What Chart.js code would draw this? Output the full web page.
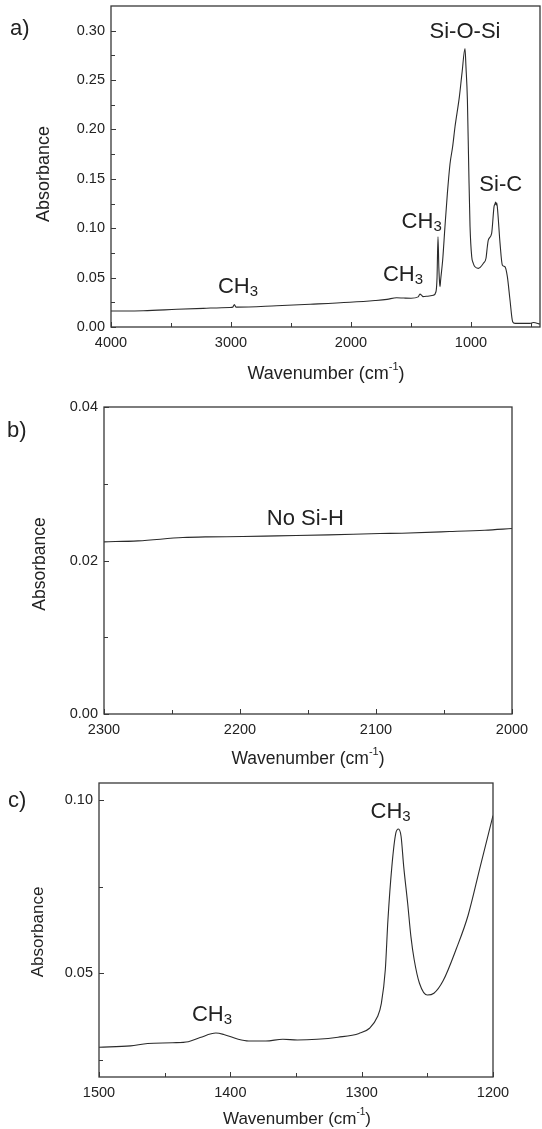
<!DOCTYPE html>
<html>
<head>
<meta charset="utf-8">
<script src="https://cdn.jsdelivr.net/npm/chart.js@4.4.0/dist/chart.umd.min.js"></script>
<style>
  html, body { margin: 0; padding: 0; background: #fff; }
  body { width: 542px; height: 1129px; position: relative; overflow: hidden; }
  canvas { position: absolute; left: 0; }
</style>
</head>
<body>
<canvas id="chartA" width="542" height="390" style="top:0"></canvas>
<canvas id="chartB" width="542" height="380" style="top:390px"></canvas>
<canvas id="chartC" width="542" height="359" style="top:770px"></canvas>
<script>
const FONT = '"Liberation Sans", Arial, sans-serif';
const INK = '#222';

// a) full spectrum
const aWave = [4000, 3730, 3450, 3230, 3010, 2985, 2972, 2960, 2950, 2620, 2340, 2010, 1800, 1700, 1620,
  1560, 1500, 1440, 1425, 1411, 1400, 1360, 1314, 1292, 1283, 1275, 1268, 1262, 1258, 1253,
  1236, 1217, 1197, 1175, 1153, 1133, 1097, 1075, 1050, 1042, 1030, 1019, 1008, 994, 981,
  967, 939, 897, 875, 864, 856, 828, 808, 800, 795, 790, 785, 778, 758, 739,
  717, 697, 675, 653, 633, 508, 480, 425];
const aAbs = [0.0162, 0.0165, 0.0179, 0.0189, 0.0198, 0.0201, 0.0228, 0.0203, 0.0201, 0.0215, 0.0230, 0.0250, 0.0268, 0.0280, 0.0296,
  0.0293, 0.0291, 0.0305, 0.0333, 0.0320, 0.0308, 0.0312, 0.0322, 0.0357, 0.0500, 0.0914, 0.0600, 0.0450, 0.0408, 0.0476,
  0.0678, 0.1016, 0.135, 0.165, 0.1826, 0.203, 0.233, 0.257, 0.282, 0.2636, 0.230, 0.162, 0.1016, 0.0712, 0.0645,
  0.061, 0.0594, 0.0645, 0.0696, 0.0813, 0.088, 0.0949, 0.1218, 0.1245, 0.1265, 0.1235, 0.1255, 0.118, 0.0847, 0.0628,
  0.061, 0.051, 0.0273, 0.0054, 0.0037, 0.0037, 0.0045, 0.003];
const aXTicks = [4000, 3000, 2000, 1000];
const aXMinor = [3500, 2500, 1500, 500];
const aYTicks = [0, 0.05, 0.10, 0.15, 0.20, 0.25, 0.30];
const aYMinor = [0.025, 0.075, 0.125, 0.175, 0.225, 0.275];
const aNotes = [
  { text: 'CH', sub: '3', x: 2942, y: 0.0405 },
  { text: 'CH', sub: '3', x: 1567, y: 0.0526 },
  { text: 'CH', sub: '3', x: 1411, y: 0.1066 },
  { text: 'Si-O-Si', x: 1050, y: 0.299 },
  { text: 'Si-C', x: 752, y: 0.1438 }
];

// b) Si-H region
const bWave = [2300, 2275, 2242, 2224, 2198, 2173, 2135, 2097, 2081, 2046, 2020, 2000];
const bAbs = [0.02243, 0.02256, 0.02299, 0.02308, 0.02312, 0.02321, 0.02334, 0.02351, 0.02356, 0.02377, 0.02395, 0.02416];
const bXTicks = [2300, 2200, 2100, 2000];
const bXMinor = [2250, 2150, 2050];
const bYTicks = [0, 0.02, 0.04];
const bYMinor = [0.01, 0.03];
const bNotes = [{ text: 'No Si-H', x: 2152, y: 0.02545 }];

// c) CH3 region
const cWave = [1500, 1476, 1463, 1444, 1432, 1423, 1411, 1405, 1394, 1386, 1373, 1360, 1349, 1334, 1318,
  1302, 1294, 1288, 1285, 1282, 1280, 1277, 1274, 1272, 1270, 1268, 1265, 1262.5, 1260, 1256,
  1250, 1245, 1238, 1228, 1219, 1210, 1200];
const cAbs = [0.0286, 0.0290, 0.0297, 0.0299, 0.0302, 0.0314, 0.0327, 0.0323, 0.0309, 0.0304, 0.0304, 0.0309, 0.0307, 0.0309, 0.0315,
  0.0326, 0.0341, 0.0374, 0.0413, 0.0510, 0.0654, 0.0809, 0.0905, 0.0917, 0.0896, 0.0809, 0.0703, 0.0606, 0.0539, 0.0471,
  0.0437, 0.0442, 0.0478, 0.0570, 0.0667, 0.0804, 0.0956];
const cXTicks = [1500, 1400, 1300, 1200];
const cXMinor = [1450, 1350, 1250];
const cYTicks = [0.05, 0.10];
const cYMinor = [0.025, 0.075];
const cNotes = [
  { text: 'CH', sub: '3', x: 1278, y: 0.0965 },
  { text: 'CH', sub: '3', x: 1414, y: 0.0380 }
];

function textSub(ctx, text, sub, cx, cy, size) {
  ctx.font = size + 'px ' + FONT;
  const w1 = ctx.measureText(text).width;
  const subSize = Math.round(size * 0.68);
  ctx.font = subSize + 'px ' + FONT;
  const w2 = sub ? ctx.measureText(sub).width : 0;
  const x0 = cx - (w1 + w2) / 2;
  ctx.textAlign = 'left';
  ctx.textBaseline = 'middle';
  ctx.font = size + 'px ' + FONT;
  ctx.fillText(text, x0, cy);
  if (sub) {
    ctx.font = subSize + 'px ' + FONT;
    ctx.fillText(sub, x0 + w1, cy + size * 0.22);
  }
}

const deco = {
  id: 'deco',
  afterDraw(chart, args, o) {
    const { ctx, chartArea: a, scales: { x, y } } = chart;
    ctx.save();
    ctx.strokeStyle = '#383838';
    ctx.lineWidth = 1.3;
    ctx.strokeRect(a.left, a.top, a.right - a.left, a.bottom - a.top);
    ctx.lineWidth = 1;
    const xt = (vals, len) => vals.forEach(v => {
      const px = Math.round(x.getPixelForValue(v)) + 0.5;
      ctx.beginPath(); ctx.moveTo(px, a.bottom); ctx.lineTo(px, a.bottom - len); ctx.stroke();
    });
    const yt = (vals, len) => vals.forEach(v => {
      const py = Math.round(y.getPixelForValue(v)) + 0.5;
      ctx.beginPath(); ctx.moveTo(a.left, py); ctx.lineTo(a.left + len, py); ctx.stroke();
    });
    xt(o.xTicks, 5); xt(o.xMinor, 4);
    yt(o.yTicks, 5); yt(o.yMinor, 4);

    ctx.fillStyle = INK;
    // peak labels
    o.notes.forEach(n => textSub(ctx, n.text, n.sub, x.getPixelForValue(n.x), y.getPixelForValue(n.y), o.noteSize));
    // panel letter
    ctx.font = o.letterSize + 'px ' + FONT;
    ctx.textAlign = 'left';
    ctx.textBaseline = 'middle';
    ctx.fillText(o.letter, o.letterX, o.letterY);
    // y title
    ctx.save();
    ctx.translate(o.yTitleX, o.yTitleY);
    ctx.rotate(-Math.PI / 2);
    ctx.font = o.titleSize + 'px ' + FONT;
    ctx.textAlign = 'center';
    ctx.fillText('Absorbance', 0, 0);
    ctx.restore();
    // x title with superscript
    const t1 = 'Wavenumber (cm', t2 = '-1', t3 = ')';
    const supSize = Math.round(o.titleSize * 0.6);
    ctx.font = o.titleSize + 'px ' + FONT;
    const w1 = ctx.measureText(t1).width, w3 = ctx.measureText(t3).width;
    ctx.font = supSize + 'px ' + FONT;
    const w2 = ctx.measureText(t2).width;
    let x0 = o.xTitleX - (w1 + w2 + w3) / 2;
    ctx.textAlign = 'left';
    ctx.font = o.titleSize + 'px ' + FONT;
    ctx.fillText(t1, x0, o.xTitleY);
    ctx.font = supSize + 'px ' + FONT;
    ctx.fillText(t2, x0 + w1, o.xTitleY - o.titleSize * 0.38);
    ctx.font = o.titleSize + 'px ' + FONT;
    ctx.fillText(t3, x0 + w1 + w2, o.xTitleY);
    ctx.restore();
  }
};

function makePanel(id, p) {
  const pts = p.wave.map((w, i) => ({ x: w, y: p.abs[i] }));
  return new Chart(document.getElementById(id), {
    type: 'line',
    data: {
      datasets: [{
        data: pts,
        borderColor: '#2b2b2b',
        borderWidth: 1.1,
        pointRadius: 0,
        cubicInterpolationMode: 'monotone',
        fill: false
      }]
    },
    options: {
      responsive: false,
      animation: false,
      events: [],
      layout: { padding: p.pad },
      plugins: {
        legend: { display: false },
        tooltip: { enabled: false },
        deco: {
          xTicks: p.xTicks, xMinor: p.xMinor, yTicks: p.yTicks, yMinor: p.yMinor,
          notes: p.notes, noteSize: p.noteSize, letter: p.letter, letterSize: p.letterSize,
          letterX: p.letterX, letterY: p.letterY, titleSize: p.titleSize,
          xTitleX: p.xTitleX, xTitleY: p.xTitleY, yTitleX: p.yTitleX, yTitleY: p.yTitleY
        }
      },
      scales: {
        x: {
          type: 'linear',
          reverse: true,
          min: p.xMin, max: p.xMax,
          grid: { display: false, drawTicks: false },
          border: { display: false },
          afterBuildTicks: s => { s.ticks = p.xTicks.map(v => ({ value: v })); },
          afterFit: s => { s.height = p.xHeight; s.paddingLeft = 0; s.paddingRight = 0; },
          ticks: {
            autoSkip: false, maxRotation: 0, padding: p.xPad,
            color: INK, font: { family: FONT, size: p.tickSize },
            callback: v => String(v)
          }
        },
        y: {
          type: 'linear',
          min: p.yMin, max: p.yMax,
          grid: { display: false, drawTicks: false },
          border: { display: false },
          afterBuildTicks: s => { s.ticks = p.yTicks.map(v => ({ value: v })); },
          afterFit: s => { s.width = p.yWidth; s.paddingTop = 0; s.paddingBottom = 0; },
          ticks: {
            padding: 6,
            color: INK, font: { family: FONT, size: p.tickSize },
            callback: v => v.toFixed(2)
          }
        }
      }
    },
    plugins: [deco]
  });
}

makePanel('chartA', {
  wave: aWave, abs: aAbs, xTicks: aXTicks, xMinor: aXMinor, yTicks: aYTicks, yMinor: aYMinor, notes: aNotes,
  xMin: 425, xMax: 4000, yMin: 0, yMax: 0.325,
  pad: { left: 0, top: 6, right: 2, bottom: 0 }, yWidth: 111, xHeight: 63, xPad: 7,
  tickSize: 14.5, noteSize: 22, titleSize: 18, letter: 'a)', letterSize: 22, letterX: 10, letterY: 29,
  xTitleX: 326, xTitleY: 374, yTitleX: 44, yTitleY: 174
});

makePanel('chartB', {
  wave: bWave, abs: bAbs, xTicks: bXTicks, xMinor: bXMinor, yTicks: bYTicks, yMinor: bYMinor, notes: bNotes,
  xMin: 2000, xMax: 2300, yMin: 0, yMax: 0.04,
  pad: { left: 0, top: 17, right: 30, bottom: 0 }, yWidth: 104, xHeight: 56, xPad: 7,
  tickSize: 14.5, noteSize: 22, titleSize: 17.5, letter: 'b)', letterSize: 22, letterX: 7, letterY: 41,
  xTitleX: 308, xTitleY: 369, yTitleX: 40, yTitleY: 174
});

makePanel('chartC', {
  wave: cWave, abs: cAbs, xTicks: cXTicks, xMinor: cXMinor, yTicks: cYTicks, yMinor: cYMinor, notes: cNotes,
  xMin: 1200, xMax: 1500, yMin: 0.02, yMax: 0.105,
  pad: { left: 0, top: 13, right: 49, bottom: 0 }, yWidth: 99, xHeight: 52, xPad: 7,
  tickSize: 14.5, noteSize: 22, titleSize: 17, letter: 'c)', letterSize: 22, letterX: 8, letterY: 31,
  xTitleX: 297, xTitleY: 349, yTitleX: 38, yTitleY: 162
});
</script>
</body>
</html>
